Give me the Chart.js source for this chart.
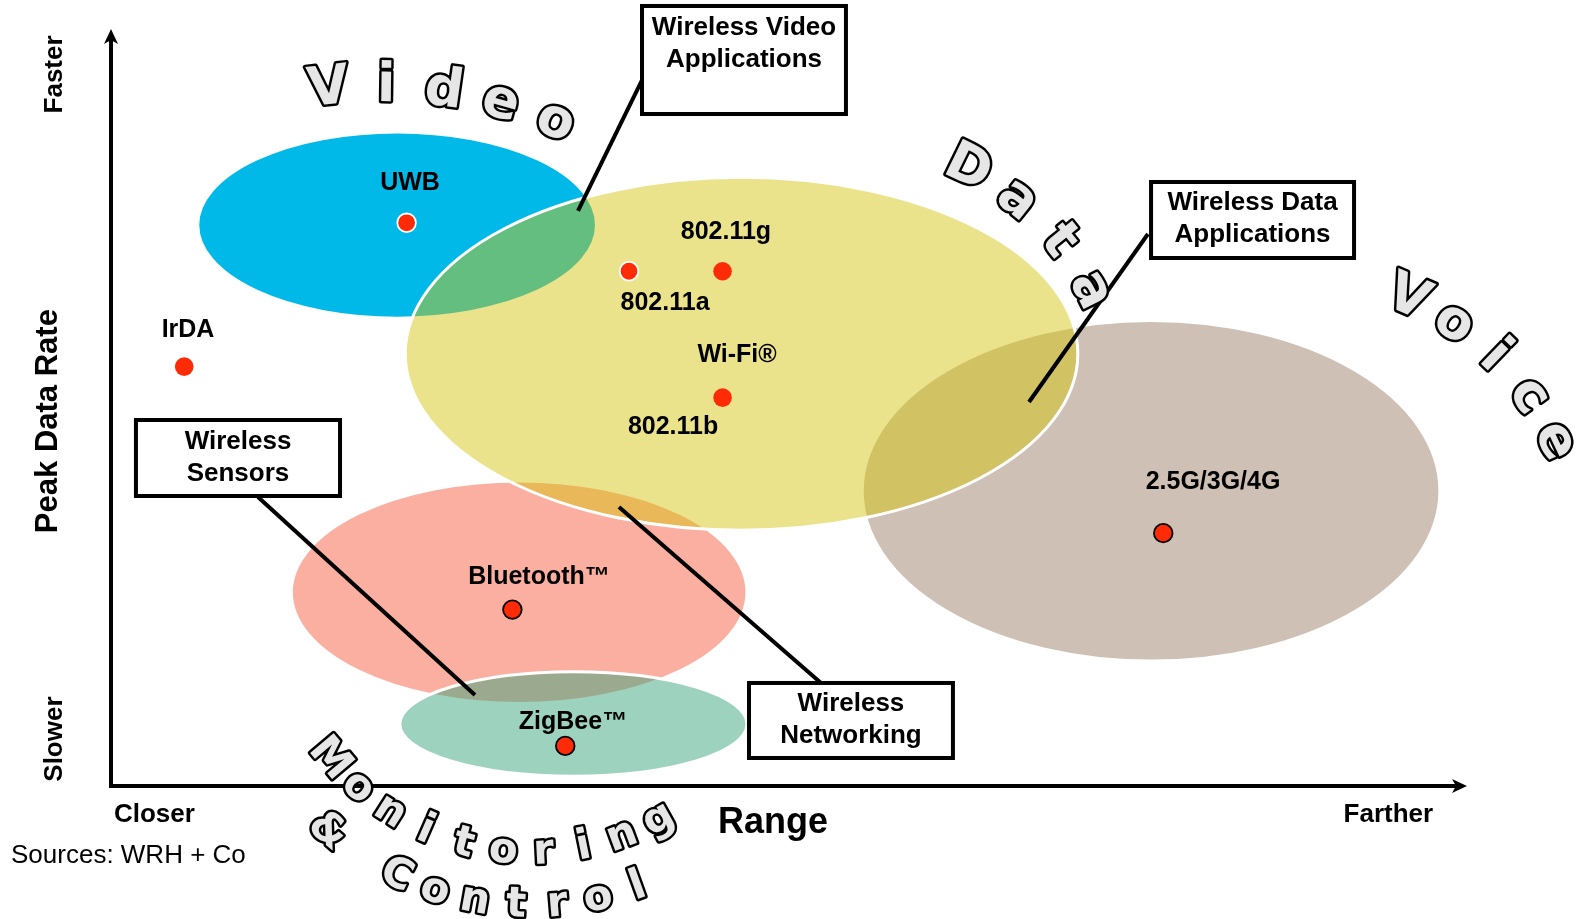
<!DOCTYPE html>
<html>
<head>
<meta charset="utf-8">
<script src="https://cdn.jsdelivr.net/npm/chart.js@4.4.1/dist/chart.umd.min.js"></script>
<style>
html,body{margin:0;padding:0;background:#fff;overflow:hidden;}
canvas{display:block;}
</style>
</head>
<body>
<canvas id="c" width="1581" height="919" style="width:1581px;height:919px"></canvas>
<script>
// ---------------- DATA ----------------
// Technology regions (drawn bottom to top in this order)
const technologies = ['UWB', 'Bluetooth', '2.5G/3G/4G', 'Wi-Fi', 'ZigBee'];
const regionRange  = [21.1, 30.1, 76.7, 46.5, 34.1];   // centre on Range axis (0-100)
const regionRate   = [74.1, 25.6, 39.0, 57.1, 8.2];    // centre on Peak Data Rate axis (0-100)
const regionRangeSpread = [14.7, 16.8, 21.3, 24.8, 12.8];
const regionRateSpread  = [12.3, 14.7, 22.5, 23.3, 6.9];
const regionColors = ['#00b9e8', '#fbafa1', '#cfc0b5', 'rgba(212,195,9,0.47)', 'rgba(59,165,125,0.5)'];

// Individual standards (red dots)
const standards     = ['UWB', '802.11a', '802.11g', '802.11b', 'IrDA', 'Bluetooth', 'ZigBee', '2.5G/3G/4G'];
const standardRange = [21.8, 38.2, 45.1, 45.1, 5.4, 29.6, 33.5, 77.6];
const standardRate  = [74.4, 68.0, 68.0, 51.3, 55.4, 23.3, 5.3, 33.4];
const standardEdge  = ['#ffffff', '#ffffff', '#ff2b06', '#ff2b06', '#ff2b06', '#000000', '#000000', '#000000'];

// Text labels in the plot
const labelTexts = ['UWB', '802.11g', '802.11a', 'Wi-Fi®', '802.11b', 'IrDA', 'Bluetooth™', 'ZigBee™', '2.5G/3G/4G'];
const labelRange = [22.05, 45.35, 40.86, 46.17, 41.45, 5.68, 31.56, 34.07, 81.27];
const labelRate  = [79.66, 73.18, 63.8, 56.94, 47.42, 60.24, 27.61, 8.45, 40.16];

// Axis words
const xTickLabels = ['Closer', 'Farther'];
const xTickValues = [3.2, 94.2];
const yTickLabels = ['Slower', 'Faster'];
const yTickValues = [6.2, 94.0];
const xTitle = 'Range';
const yTitle = 'Peak Data Rate';
const sourceNote = 'Sources: WRH + Co';

// Callouts
const calloutTexts = [['Wireless Video', 'Applications'], ['Wireless Data', 'Applications'], ['Wireless', 'Sensors'], ['Wireless', 'Networking']];
const calloutBoxX1 = [39.16, 76.70, 1.84, 47.05];
const calloutBoxX2 = [54.20, 91.67, 16.89, 62.09];
const calloutBoxY1 = [103.04, 79.79, 48.35, 13.61];
const calloutBoxY2 = [88.77, 69.75, 38.31, 3.70];
const calloutText1Y = [100.13, 77.0, 45.44, 10.83];
const calloutFromX = [39.16, 76.47, 10.84, 52.36];
const calloutFromY = [93.26, 72.92, 38.18, 13.61];
const calloutToX   = [34.44, 67.70, 26.84, 37.46];
const calloutToY   = [75.96, 50.73, 12.02, 36.86];

// Curved application words
const arcWords  = ['Video', 'Data', 'Voice', 'Monitoring', '& Control'];
const arcCentreX = [19.84, 54.50, 87.24, 30.97, 30.97];
const arcCentreY = [33.16, 49.67, 29.33, 25.89, 25.89];
const arcRadius  = [448, 268, 288, 263, 316];
const arcStart   = [-96.6, -64, -66.8, 140, 130.2];
const arcStep    = [7.4, 12.5, 10.4, -8.79, -7.5];
const arcUp      = [true, true, true, false, false];
const arcSize    = [54, 54, 54, 42, 42];

// ---------------- DRAWING ----------------
const SANS = '"Liberation Sans", Arial, sans-serif';

const regionsPlugin = {
  id: 'regions',
  beforeDatasetsDraw(chart) {
    const ctx = chart.ctx, X = chart.scales.x, Y = chart.scales.y;
    ctx.save();
    for (let i = 0; i < technologies.length; i++) {
      const cx = X.getPixelForValue(regionRange[i]);
      const cy = Y.getPixelForValue(regionRate[i]);
      const rx = X.getPixelForValue(regionRange[i] + regionRangeSpread[i]) - cx;
      const ry = cy - Y.getPixelForValue(regionRate[i] + regionRateSpread[i]);
      ctx.beginPath();
      ctx.ellipse(cx, cy, rx, ry, 0, 0, Math.PI * 2);
      ctx.fillStyle = regionColors[i];
      ctx.fill();
      ctx.lineWidth = 3;
      ctx.strokeStyle = '#ffffff';
      ctx.stroke();
    }
    // callout leader lines
    ctx.strokeStyle = '#000';
    ctx.lineWidth = 4;
    for (let i = 0; i < calloutTexts.length; i++) {
      ctx.beginPath();
      ctx.moveTo(X.getPixelForValue(calloutFromX[i]), Y.getPixelForValue(calloutFromY[i]));
      ctx.lineTo(X.getPixelForValue(calloutToX[i]), Y.getPixelForValue(calloutToY[i]));
      ctx.stroke();
    }
    ctx.restore();
  },
  afterDatasetsDraw(chart) {
    const ctx = chart.ctx, X = chart.scales.x, Y = chart.scales.y;
    ctx.save();
    // axes with arrow heads
    const x0 = X.getPixelForValue(0), y0 = Y.getPixelForValue(0);
    const xEnd = X.getPixelForValue(100), yEnd = Y.getPixelForValue(100);
    ctx.strokeStyle = '#000'; ctx.fillStyle = '#000'; ctx.lineWidth = 4;
    ctx.beginPath(); ctx.moveTo(x0, y0 + 2); ctx.lineTo(x0, yEnd + 10); ctx.stroke();
    ctx.beginPath(); ctx.moveTo(x0 - 2, y0); ctx.lineTo(xEnd - 10, y0); ctx.stroke();
    ctx.beginPath(); ctx.moveTo(x0, yEnd); ctx.lineTo(x0 - 7, yEnd + 15); ctx.lineTo(x0, yEnd + 11); ctx.lineTo(x0 + 7, yEnd + 15); ctx.closePath(); ctx.fill();
    ctx.beginPath(); ctx.moveTo(xEnd, y0); ctx.lineTo(xEnd - 15, y0 - 7); ctx.lineTo(xEnd - 11, y0); ctx.lineTo(xEnd - 15, y0 + 7); ctx.closePath(); ctx.fill();

    // axis words
    ctx.fillStyle = '#000';
    ctx.textAlign = 'center'; ctx.textBaseline = 'middle';
    ctx.font = 'bold 26px ' + SANS;
    for (let i = 0; i < xTickLabels.length; i++) {
      ctx.fillText(xTickLabels[i], X.getPixelForValue(xTickValues[i]), y0 + 29);
    }
    ctx.font = 'bold 36px ' + SANS;
    ctx.fillText(xTitle, X.getPixelForValue(48.82), y0 + 37);
    ctx.font = 'bold 26px ' + SANS;
    for (let i = 0; i < yTickLabels.length; i++) {
      ctx.save(); ctx.translate(x0 - 56, Y.getPixelForValue(yTickValues[i])); ctx.rotate(-Math.PI / 2);
      ctx.fillText(yTickLabels[i], 0, 0); ctx.restore();
    }
    ctx.save(); ctx.translate(x0 - 63, Y.getPixelForValue(48.2)); ctx.rotate(-Math.PI / 2);
    ctx.font = 'bold 31px ' + SANS; ctx.fillText(yTitle, 0, 0); ctx.restore();
    ctx.textAlign = 'left';
    ctx.font = '26px ' + SANS;
    ctx.fillText(sourceNote, x0 - 100, y0 + 70);

    // point labels
    ctx.textAlign = 'center';
    ctx.font = 'bold 25px ' + SANS;
    for (let i = 0; i < labelTexts.length; i++) {
      ctx.fillText(labelTexts[i], X.getPixelForValue(labelRange[i]), Y.getPixelForValue(labelRate[i]));
    }

    // callout boxes
    for (let i = 0; i < calloutTexts.length; i++) {
      const bx1 = X.getPixelForValue(calloutBoxX1[i]), bx2 = X.getPixelForValue(calloutBoxX2[i]);
      const by1 = Y.getPixelForValue(calloutBoxY1[i]), by2 = Y.getPixelForValue(calloutBoxY2[i]);
      ctx.fillStyle = '#fff';
      ctx.fillRect(bx1, by1, bx2 - bx1, by2 - by1);
      ctx.lineWidth = 4; ctx.strokeStyle = '#000';
      ctx.strokeRect(bx1, by1, bx2 - bx1, by2 - by1);
      ctx.fillStyle = '#000';
      ctx.font = 'bold 26px ' + SANS;
      const ty = Y.getPixelForValue(calloutText1Y[i]);
      calloutTexts[i].forEach((t, k) => ctx.fillText(t, (bx1 + bx2) / 2, ty + k * 32));
    }

    // curved words
    for (let w = 0; w < arcWords.length; w++) {
      const cx = X.getPixelForValue(arcCentreX[w]), cy = Y.getPixelForValue(arcCentreY[w]);
      ctx.font = 'bold ' + arcSize[w] + 'px "DejaVu Sans", sans-serif';
      ctx.textAlign = 'center'; ctx.textBaseline = 'middle';
      ctx.lineJoin = 'round';
      [...arcWords[w]].forEach((ch, k) => {
        if (ch === ' ') return;
        const th = (arcStart[w] + k * arcStep[w]) * Math.PI / 180;
        const px = cx + arcRadius[w] * Math.cos(th), py = cy + arcRadius[w] * Math.sin(th);
        const rot = arcUp[w] ? th + Math.PI / 2 : th - Math.PI / 2;
        ctx.save(); ctx.translate(px, py); ctx.rotate(rot);
        ctx.lineWidth = 5; ctx.strokeStyle = '#000'; ctx.strokeText(ch, 0, 0);
        ctx.fillStyle = '#e6e6e6'; ctx.fillText(ch, 0, 0);
        ctx.restore();
      });
    }
    ctx.restore();
  }
};

new Chart(document.getElementById('c'), {
  type: 'scatter',
  data: {
    datasets: [{
      label: 'Standards',
      data: standards.map((s, i) => ({ x: standardRange[i], y: standardRate[i] })),
      pointRadius: 9.3,
      pointHoverRadius: 9.3,
      pointBackgroundColor: '#ff2b06',
      pointBorderColor: standardEdge,
      pointBorderWidth: standardEdge.map(c => c === '#ff2b06' ? 0 : 1.8)
    }]
  },
  options: {
    responsive: false,
    animation: false,
    devicePixelRatio: 1,
    layout: { padding: { left: 111, right: 114, top: 29, bottom: 133 } },
    scales: {
      x: { type: 'linear', min: 0, max: 100, display: false },
      y: { type: 'linear', min: 0, max: 100, display: false }
    },
    plugins: { legend: { display: false }, tooltip: { enabled: false } }
  },
  plugins: [regionsPlugin]
});
</script>
</body>
</html>
